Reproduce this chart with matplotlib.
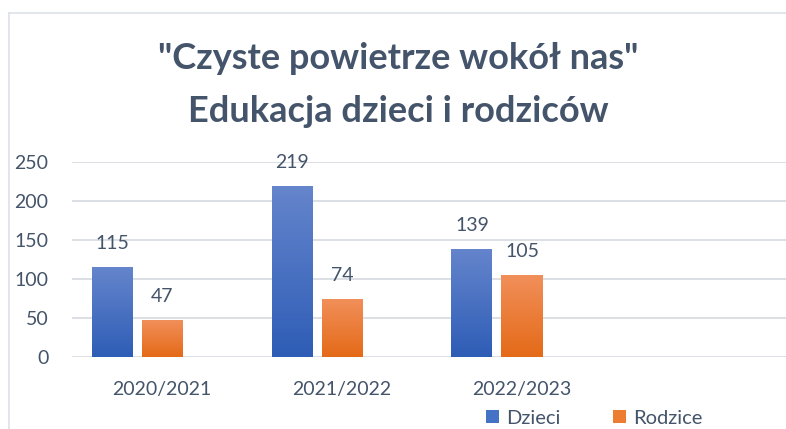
import numpy as np
import matplotlib
matplotlib.use("Agg")
import matplotlib.pyplot as plt
from matplotlib.lines import Line2D
from matplotlib.patches import Patch
from matplotlib.colors import LinearSegmentedColormap

categories = ["2020/2021", "2021/2022", "2022/2023", ""]
series_names = ["Dzieci", "Rodzice"]
dzieci = [115, 219, 139]
rodzice = [47, 74, 105]
title_lines = ['"Czyste powietrze wokół nas"', 'Edukacja dzieci i rodziców']
yticks = [0, 50, 100, 150, 200, 250]

plt.rcParams['font.family'] = ['Lato', 'DejaVu Sans']
TEXT = '#44546A'
GRID = '#D9DDE3'
BLUE_TOP, BLUE_BOT = '#6585CC', '#2E5DB6'
OR_TOP, OR_BOT = '#F18F5A', '#E46A17'
FS = 14

W, H = 786, 429
fig = plt.figure(figsize=(W / 100, H / 100), dpi=100)
ax = fig.add_axes([72 / W, (H - 357) / H, 720 / W, 195 / H])

x = np.arange(len(categories))
step = 50 / 180
width = 41 / 180

grad = np.linspace(1, 0, 256).reshape(-1, 1)

def gradient_bars(xs, vals, top, bot, label):
    bars = ax.bar(xs, vals, width, color=bot, label=label, zorder=2)
    cmap = LinearSegmentedColormap.from_list(label, [bot, top])
    for b in bars:
        x0, w_, h_ = b.get_x(), b.get_width(), b.get_height()
        im = ax.imshow(grad, extent=[x0, x0 + w_, 0, h_], cmap=cmap,
                       aspect='auto', zorder=3, interpolation='bilinear')
        im.set_clip_path(b)
    for b, v in zip(bars, vals):
        ax.annotate(str(v), (b.get_x() + b.get_width() / 2, v),
                    xytext=(0, 13), textcoords='offset points',
                    ha='center', va='baseline', fontsize=FS, color=TEXT)
    return bars

gradient_bars(x[:3] - step, dzieci, BLUE_TOP, BLUE_BOT, series_names[0])
gradient_bars(x[:3], rodzice, OR_TOP, OR_BOT, series_names[1])

ax.set_xlim(-0.5, 3.5)
ax.set_ylim(0, 250)
ax.set_yticks(yticks)
ax.set_xticks(x, categories)
ax.yaxis.grid(True, color=GRID, linewidth=1.3)
ax.set_axisbelow(True)
for s in ax.spines.values():
    s.set_visible(False)
ax.tick_params(axis='both', length=0, labelsize=FS, labelcolor=TEXT)
ax.tick_params(axis='y', pad=17)
ax.tick_params(axis='x', pad=17)

# title
fig.text(0.507, 1 - 69 / H, title_lines[0], ha='center', va='baseline',
         fontsize=26, fontweight='bold', color=TEXT)
fig.text(0.507, 1 - 122 / H, title_lines[1], ha='center', va='baseline',
         fontsize=26, fontweight='bold', color=TEXT)

# chart border
fig.add_artist(Line2D([9 / W, 1], [1 - 13 / H, 1 - 13 / H], color='#DDE1E7', linewidth=1.2))
fig.add_artist(Line2D([9 / W, 9 / W], [0, 1 - 13 / H], color='#DDE1E7', linewidth=1.2))

handles = [Patch(facecolor='#4472C4'), Patch(facecolor='#ED7D31')]
fig.legend(handles, series_names, loc='center', bbox_to_anchor=(594 / W, 1 - 418 / H),
           ncol=2, frameon=False, fontsize=FS + 0.5, labelcolor=TEXT,
           handlelength=0.65, handleheight=0.65, handletextpad=0.35, columnspacing=2.6)

fig.savefig('out.png', dpi=100)
